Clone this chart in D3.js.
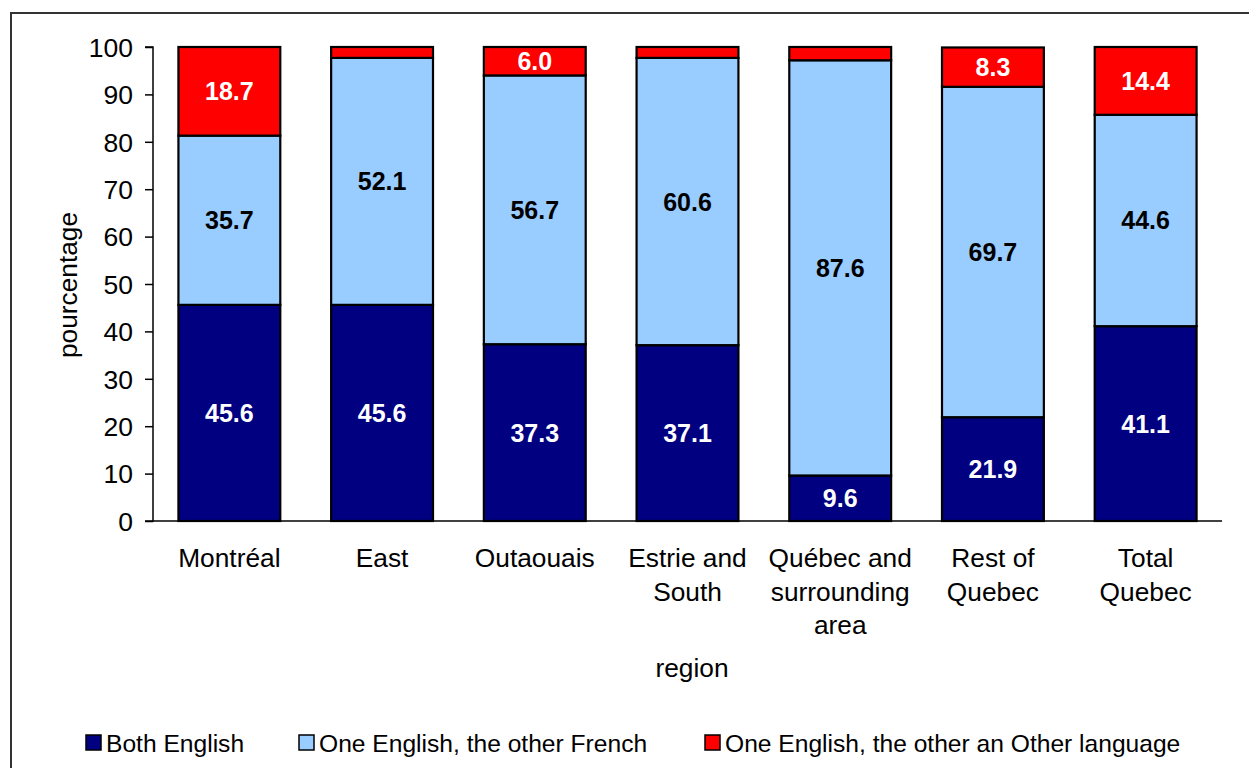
<!DOCTYPE html>
<html><head><meta charset="utf-8">
<script src="https://cdn.jsdelivr.net/npm/d3@7"></script>
<style>body{margin:0;background:#fff;} svg{display:block;font-family:Arial,"Liberation Sans",sans-serif;}</style>
</head><body>
<svg id="c" width="1249" height="768"></svg>
<script>
const categories = [["Montréal"],["East"],["Outaouais"],["Estrie and","South"],["Québec and","surrounding","area"],["Rest of","Quebec"],["Total","Quebec"]];
const bothEnglish = [45.6, 45.6, 37.3, 37.1, 9.6, 21.9, 41.1];
const englishFrench = [35.7, 52.1, 56.7, 60.6, 87.6, 69.7, 44.6];
const englishOther = [18.7, 2.3, 6.0, 2.3, 2.8, 8.3, 14.4];
const seriesNames = ["Both English", "One English, the other French", "One English, the other an Other language"];
const yTicks = [0,10,20,30,40,50,60,70,80,90,100];

(function(){
const colors = ["#000080", "#99CCFF", "#FF0000"];
const labelColors = ["#fff", "#000", "#fff"];
const svg = d3.select("#c");

// outer border
svg.append("rect").attr("x",11).attr("y",13).attr("width",1260).attr("height",780)
  .attr("fill","none").attr("stroke","#333").attr("stroke-width",2);

const pLeft=153, pRight=1222, pTop=47, pBottom=521;
const keys = categories.map((c,i)=>i);
const x = d3.scaleBand().domain(keys).range([pLeft,pRight]).paddingInner(0.333).paddingOuter(0.1665);
const y = d3.scaleLinear().domain([0,100]).range([pBottom,pTop]);

const rows = keys.map(i=>({i, s0:bothEnglish[i], s1:englishFrench[i], s2:englishOther[i]}));
const stack = d3.stack().keys(["s0","s1","s2"])(rows);

stack.forEach((layer,li)=>{
  const g = svg.append("g");
  g.selectAll("rect").data(layer).join("rect")
    .attr("x",d=>x(d.data.i)).attr("width",x.bandwidth())
    .attr("y",d=>y(Math.min(100,d[1]))).attr("height",d=>y(d[0])-y(Math.min(100,d[1])))
    .attr("fill",colors[li]).attr("stroke","#000").attr("stroke-width",2.2);
  g.selectAll("text").data(layer.filter(d=>d[1]-d[0]>=5)).join("text")
    .attr("x",d=>x(d.data.i)+x.bandwidth()/2)
    .attr("y",d=>y((d[0]+Math.min(100,d[1]))/2)+9)
    .attr("text-anchor","middle").attr("font-weight","bold").attr("font-size",25)
    .attr("fill",labelColors[li])
    .text(d=>(d[1]-d[0]).toFixed(1));
});

// y axis
const ya = svg.append("g").attr("transform",`translate(${pLeft},0)`)
  .call(d3.axisLeft(y).tickValues(yTicks).tickSize(8).tickPadding(12));
ya.select(".domain").attr("stroke","#000").attr("stroke-width",1.5).attr("d",`M-8,${pTop}H0V${pBottom}H-8`);
ya.selectAll(".tick line").attr("stroke","#000").attr("stroke-width",1.5);
ya.selectAll(".tick text").attr("font-size",26.5).attr("fill","#000").attr("font-family","Arial, 'Liberation Sans', sans-serif").attr("dy","0.35em");

// x axis line
svg.append("line").attr("x1",pLeft).attr("x2",pRight).attr("y1",pBottom).attr("y2",pBottom)
  .attr("stroke","#000").attr("stroke-width",1.5);

// category labels
const cl = svg.append("g");
categories.forEach((lines,i)=>{
  const t = cl.append("text").attr("text-anchor","middle").attr("font-size",26.3).attr("fill","#000");
  lines.forEach((ln,k)=>{
    t.append("tspan").attr("x",x(i)+x.bandwidth()/2).attr("y",567+k*33.5).text(ln);
  });
});

// axis titles
svg.append("text").attr("x",(pLeft+pRight)/2+4.5).attr("y",677).attr("text-anchor","middle")
  .attr("font-size",26.3).text("region");
svg.append("text").attr("transform","translate(77,285) rotate(-90)").attr("text-anchor","middle")
  .attr("font-size",26.3).text("pourcentage");

// legend
const legendX = [86, 299, 705];
seriesNames.forEach((n,i)=>{
  svg.append("rect").attr("x",legendX[i]).attr("y",735).attr("width",15).attr("height",15)
    .attr("fill",colors[i]).attr("stroke","#000").attr("stroke-width",1.5);
  svg.append("text").attr("x",legendX[i]+20).attr("y",752).attr("font-size",24.6).text(n);
});
})();
</script>
</body></html>
